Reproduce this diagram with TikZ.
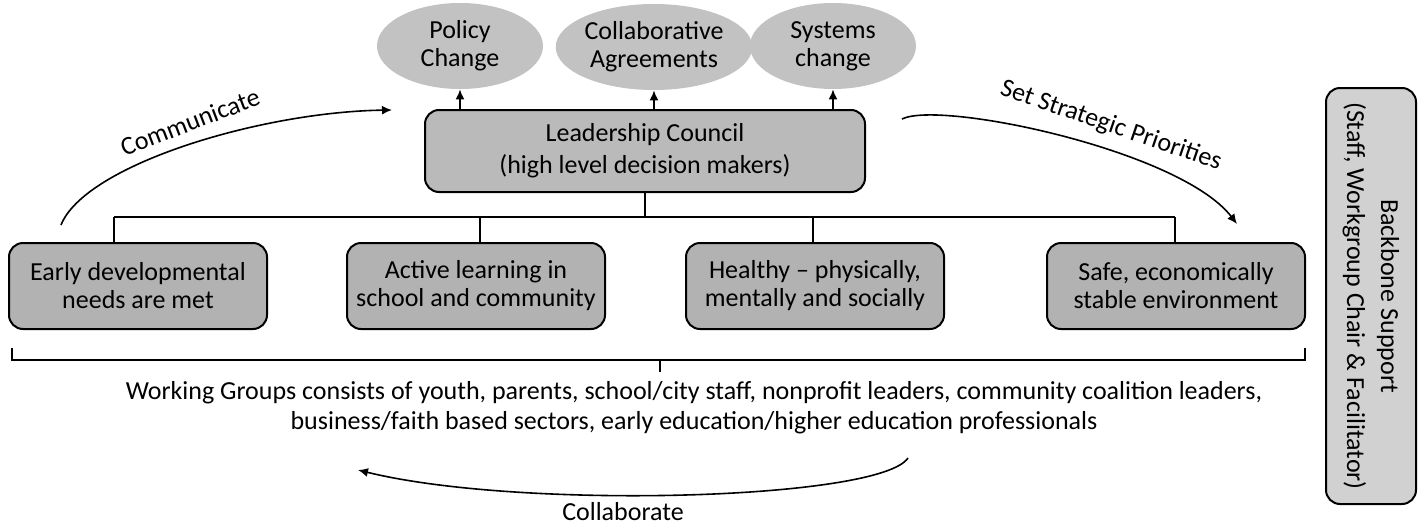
\documentclass[tikz,border=0pt]{standalone}
\usepackage{fontspec}
\setmainfont{Carlito}
\usetikzlibrary{shapes.geometric,arrows.meta}

\begin{document}
\begin{tikzpicture}[x=0.5pt, y=-0.5pt, font=\fontsize{13}{14}\selectfont,
  block/.style={draw, line width=1pt, rounded corners=7pt, fill=black!30, minimum width=129pt, minimum height=43pt, inner sep=2pt, align=center},
  goal/.style={ellipse, fill=black!24, minimum width=83pt, minimum height=43pt, inner sep=0pt, align=center},
  link/.style={line width=0.8pt},
  flow/.style={line width=0.8pt, -{Latex[length=5pt,width=4.5pt]}}]

  \useasboundingbox (0,0) rectangle (1421,525);

  % Outcomes
  \node[goal] (O1) at (460,46) {Policy\\Change};
  \node[goal] (O2) at (654,47) {Collaborative\\Agreements};
  \node[goal] (O3) at (833,46) {Systems\\change};

  % Leadership council
  \node[block, fill=black!27, minimum width=220pt, minimum height=41pt] (L) at (645,151) {Leadership Council\\[2pt](high level decision makers)};

  % Working groups
  \node[block] (W1) at (138,286) {Early developmental\\needs are met};
  \node[block] (W2) at (476,286) {Active learning in\\school and community};
  \node[block] (W3) at (815,286) {Healthy -- physically,\\mentally and socially};
  \node[block] (W4) at (1176,286) {Safe, economically\\stable environment};

  % Backbone
  \node[block, fill=black!18, rotate=-90, minimum width=208pt, minimum height=45pt] (K) at (1371,296) {Backbone Support\\[3pt](Staff, Workgroup Chair \& Facilitator)};

  % Arrows to outcomes
  \draw[flow] (O1.south |- L.north) -- (O1.south);
  \draw[flow] (O2.south |- L.north) -- (O2.south);
  \draw[flow] (O3.south |- L.north) -- (O3.south);

  % Tree
  \coordinate (J1) at (114,217);
  \coordinate (J2) at (480,217);
  \coordinate (J3) at (813,217);
  \coordinate (J4) at (1175,217);
  \draw[link] (L.south) -- (L.south |- J1);
  \draw[link] (J1) -- (J4);
  \draw[link] (J1) -- (J1 |- W1.north);
  \draw[link] (J2) -- (J2 |- W2.north);
  \draw[link] (J3) -- (J3 |- W3.north);
  \draw[link] (J4) -- (J4 |- W4.north);

  % Brace
  \coordinate (B1) at (12,348);
  \coordinate (B2) at (1305,348);
  \draw[link, line width=0.6pt] (B1) -- (12,360) -- (1305,360) -- (B2);
  \draw[link, line width=0.6pt] (660,360) -- (660,372);
  \node[align=center] (T) at (694,408) {Working Groups consists of youth, parents, school/city staff, nonprofit leaders, community coalition leaders,\\[1pt]business/faith based sectors, early education/higher education professionals};

  % Cycle arrows
  \coordinate (CmS) at (61,225);
  \coordinate (CmE) at (392,110);
  \draw[flow] (CmS) .. controls (85,165) and (260,112) .. (CmE);
  \node[rotate=21] (Cm) at (190,122) {Communicate};

  \coordinate (SpS) at (902,119);
  \coordinate (SpE) at (1237,224);
  \draw[flow] (SpS) .. controls (940,100) and (1180,150) .. (SpE);
  \node[rotate=-19] (Sp) at (1111,126) {Set Strategic Priorities};

  \coordinate (CoS) at (908,458);
  \coordinate (CoE) at (358,470);
  \draw[flow] (CoS) .. controls (880,500) and (520,510) .. (CoE);
  \node (Co) at (623,512) {Collaborate};

\end{tikzpicture}
\end{document}
